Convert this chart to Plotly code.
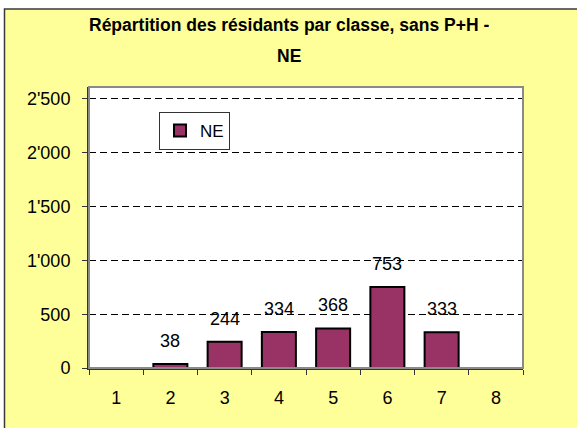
import plotly.graph_objects as go

categories = ["1", "2", "3", "4", "5", "6", "7", "8"]
values = [None, 38, 244, 334, 368, 753, 333, None]
series_name = "NE"
y_tick_vals = [0, 500, 1000, 1500, 2000, 2500]
y_tick_text = ["0", "500", "1'000", "1'500", "2'000", "2'500"]
title_line1 = "Répartition des résidants par classe, sans P+H -"
title_line2 = "NE"

FONT = "Liberation Sans, Arial, sans-serif"
W, H = 577, 428
L, R, T, B = 89, 54, 87, 60
PW, PH = W - L - R, H - T - B


def px_x(p):
    return (p - L) / PW


def px_y(p):
    return (H - B - p) / PH


fig = go.Figure()
fig.add_trace(go.Bar(
    x=categories, y=values, name=series_name,
    marker=dict(color="#993366", line=dict(color="#000000", width=2)),
    showlegend=True,
))

annotations = []
for i, (c, v) in enumerate(zip(categories, values)):
    if v is None:
        continue
    annotations.append(dict(
        x=i, y=v, xref="x", yref="y", text=str(v), showarrow=False,
        yanchor="middle", yshift=23, font=dict(family=FONT, size=18, color="#000000"),
    ))

annotations.append(dict(x=px_x(288.5), y=px_y(25), xref="paper", yref="paper",
                        text="<b>" + title_line1 + "</b>", showarrow=False,
                        xanchor="center", yanchor="middle",
                        font=dict(family=FONT, size=17.5, color="#000000")))
annotations.append(dict(x=px_x(288.5), y=px_y(56), xref="paper", yref="paper",
                        text="<b>" + title_line2 + "</b>", showarrow=False,
                        xanchor="center", yanchor="middle",
                        font=dict(family=FONT, size=17.5, color="#000000")))

shapes = [
    dict(type="rect", xref="paper", yref="paper",
         x0=px_x(4.5), x1=px_x(590), y0=px_y(440), y1=px_y(9),
         fillcolor="#FFFF99", line=dict(color="#3a3a3a", width=1.5), layer="below"),
    dict(type="rect", xref="paper", yref="paper", x0=0, x1=1, y0=0, y1=1,
         fillcolor="#FFFFFF", line=dict(width=0), layer="below"),
    dict(type="rect", xref="paper", yref="paper", x0=0, x1=1, y0=0, y1=1,
         fillcolor="rgba(0,0,0,0)", line=dict(color="#8a8a8a", width=2), layer="above"),
]

fig.update_layout(
    width=W, height=H,
    margin=dict(l=L, r=R, t=T, b=B, pad=0),
    paper_bgcolor="#FFFFFF", plot_bgcolor="rgba(0,0,0,0)",
    font=dict(family=FONT, size=18, color="#000000"),
    bargap=0.373,
    showlegend=True,
    legend=dict(x=px_x(159), y=px_y(112), xanchor="left", yanchor="top",
                bgcolor="#FFFFFF", bordercolor="#333333", borderwidth=1,
                font=dict(family=FONT, size=17, color="#000000"),
                itemsizing="constant", tracegroupgap=0),
    annotations=annotations,
    shapes=shapes,
)

fig.update_xaxes(
    type="category", categoryorder="array", categoryarray=categories,
    showline=True, linecolor="#333333", linewidth=2,
    ticks="outside", tickson="boundaries", ticklen=5, tickcolor="#333333", tickwidth=1,
    tickfont=dict(family=FONT, size=18, color="#000000"),
    ticklabelstandoff=12,
    showgrid=False, zeroline=False,
)
fig.update_yaxes(
    range=[0, 2611],
    tickvals=y_tick_vals, ticktext=y_tick_text,
    showline=True, linecolor="#333333", linewidth=2,
    ticks="outside", ticklen=5, tickcolor="#333333", tickwidth=1,
    tickfont=dict(family=FONT, size=18, color="#000000"),
    ticklabelstandoff=8,
    showgrid=True, gridcolor="#000000", gridwidth=1, griddash="7px,4px",
    zeroline=False,
)

fig.write_html("out.html", config={"displayModeBar": False},
               post_script="document.body.style.margin='0';")
